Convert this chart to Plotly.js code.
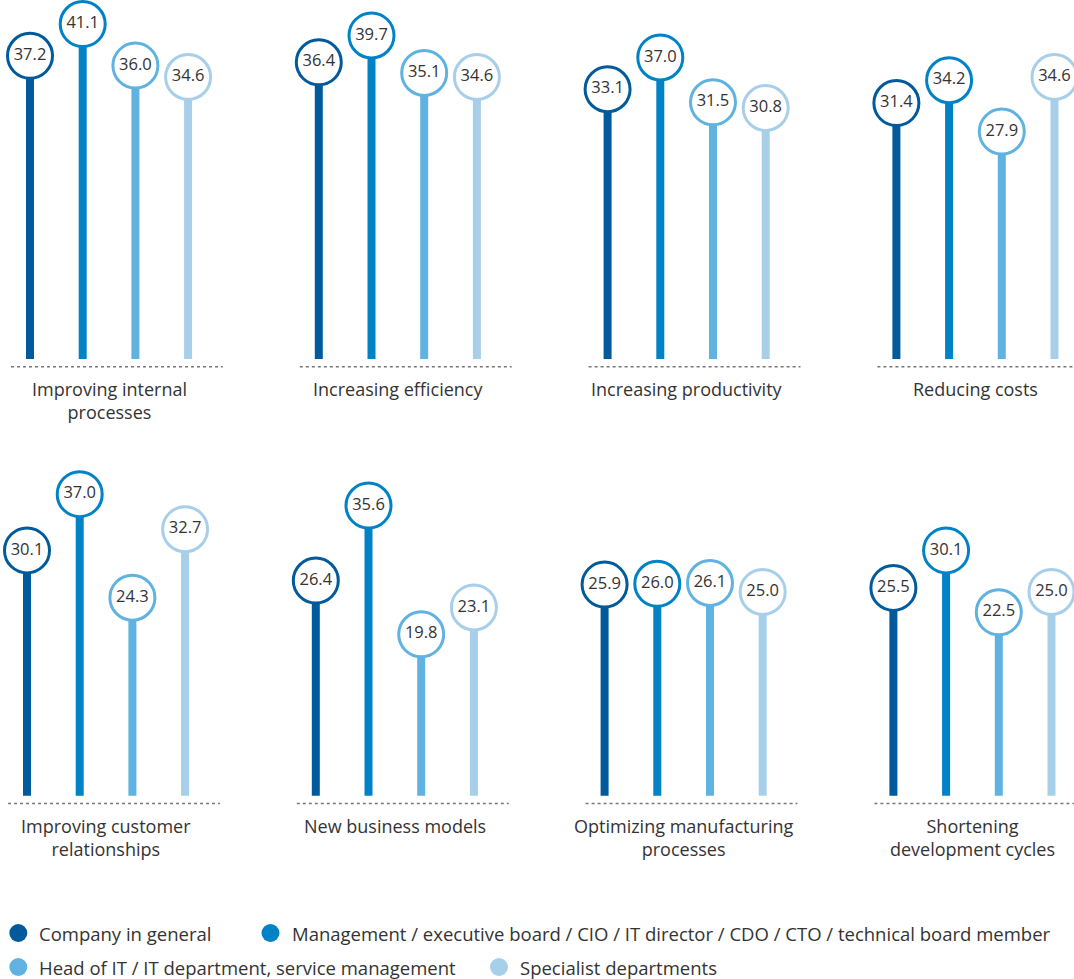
<!DOCTYPE html>
<html>
<head>
<meta charset="utf-8">
<script src="https://cdn.plot.ly/plotly-3.0.1.min.js"></script>
<style>
  html, body { margin: 0; padding: 0; background: #ffffff; }
  #chart { width: 1074px; height: 979px; }
</style>
</head>
<body>
<div id="chart"></div>
<script>
// Goals of digital transformation, by respondent group (values in %)
const categories = [
  "Improving internal<br>processes",
  "Increasing efficiency",
  "Increasing productivity",
  "Reducing costs",
  "Improving customer<br>relationships",
  "New business models",
  "Optimizing manufacturing<br>processes",
  "Shortening<br>development cycles"
];

const seriesNames = [
  "Company in general",
  "Management / executive board / CIO / IT director / CDO / CTO / technical board member",
  "Head of IT / IT department, service management",
  "Specialist departments"
];

const companyInGeneral = [37.2, 36.4, 33.1, 31.4, 30.1, 26.4, 25.9, 25.5];
const management       = [41.1, 39.7, 37.0, 34.2, 37.0, 35.6, 26.0, 30.1];
const headOfIT         = [36.0, 35.1, 31.5, 27.9, 24.3, 19.8, 26.1, 22.5];
const specialistDepts  = [34.6, 34.6, 30.8, 34.6, 32.7, 23.1, 25.0, 25.0];

const seriesValues = [companyInGeneral, management, headOfIT, specialistDepts];
const seriesColors = ["#005a9b", "#0082c6", "#60b2e0", "#a8cfea"];

// ---- geometry ----
const W = 1074, H = 979;
const FONT = "Open Sans, Noto Sans, sans-serif";
const TEXT_COLOR = "#333333";
const PX_PER_UNIT = 8.15;      // vertical pixels per percentage point
const STEM_STEP_PX = 52.7;     // horizontal distance between stems
const PANEL_STEP = 5.48;       // panel pitch, in stem steps
const Y_MIN = -5, Y_MAX = 44;
const rows = [
  { zeroPx: 359.0, firstStemPx: 30 },
  { zeroPx: 795.7, firstStemPx: 27 }
];
const PANELS_PER_ROW = 4;

const layout = {
  width: W, height: H,
  margin: { l: 0, r: 0, t: 0, b: 0, pad: 0 },
  paper_bgcolor: "#ffffff",
  plot_bgcolor: "rgba(0,0,0,0)",
  showlegend: false,
  barmode: "overlay",
  hovermode: false,
  font: { family: FONT, color: TEXT_COLOR, size: 17 },
  shapes: [],
  annotations: []
};

const hiddenAxis = {
  showgrid: false, zeroline: false, showline: false,
  showticklabels: false, ticks: "", fixedrange: true
};

rows.forEach((row, r) => {
  const suffix = r === 0 ? "" : String(r + 1);
  const bottomPx = row.zeroPx - Y_MIN * PX_PER_UNIT;
  const topPx = row.zeroPx - Y_MAX * PX_PER_UNIT;
  layout["xaxis" + suffix] = Object.assign({}, hiddenAxis, {
    domain: [0, 1],
    range: [-row.firstStemPx / STEM_STEP_PX, (W - row.firstStemPx) / STEM_STEP_PX],
    anchor: "y" + suffix
  });
  layout["yaxis" + suffix] = Object.assign({}, hiddenAxis, {
    domain: [1 - bottomPx / H, 1 - topPx / H],
    range: [Y_MIN, Y_MAX],
    anchor: "x" + suffix
  });
});

const traces = [];

rows.forEach((row, r) => {
  const xa = r === 0 ? "x" : "x2";
  const ya = r === 0 ? "y" : "y2";
  const panelIdx = [];
  for (let p = 0; p < PANELS_PER_ROW; p++) panelIdx.push(r * PANELS_PER_ROW + p);

  seriesValues.forEach((vals, s) => {
    const xs = panelIdx.map((c, p) => p * PANEL_STEP + s);
    const ys = panelIdx.map(c => vals[c]);

    // stem
    traces.push({
      type: "bar", x: xs, y: ys, base: 0,
      width: 8 / STEM_STEP_PX,
      marker: { color: seriesColors[s], line: { width: 0 } },
      xaxis: xa, yaxis: ya, hoverinfo: "skip", name: seriesNames[s]
    });

    // value bubble
    traces.push({
      type: "scatter", mode: "markers+text", x: xs, y: ys,
      text: ys.map(v => v.toFixed(1)),
      textposition: "middle center",
      textfont: { family: FONT, size: 16.5, color: TEXT_COLOR },
      marker: { size: 45, color: "#ffffff", line: { color: seriesColors[s], width: 3 } },
      cliponaxis: false,
      xaxis: xa, yaxis: ya, hoverinfo: "skip", name: seriesNames[s]
    });
  });

  // dotted baselines and category labels
  const baseY = -7.7 / PX_PER_UNIT;
  for (let p = 0; p < PANELS_PER_ROW; p++) {
    const x0 = p * PANEL_STEP;
    layout.shapes.push({
      type: "line", xref: xa, yref: ya,
      x0: x0 - 0.36, x1: x0 + 3.66, y0: baseY, y1: baseY,
      line: { color: "#777777", width: 1.5, dash: "dot" }
    });
    layout.annotations.push({
      xref: xa, yref: ya, x: x0 + 1.5, y: 0,
      xanchor: "center", yanchor: "top", yshift: -17,
      text: categories[r * PANELS_PER_ROW + p],
      showarrow: false, align: "center", borderpad: 0,
      font: { family: FONT, size: 18, color: TEXT_COLOR }
    });
  }
});

// legend drawn as dots and labels along the bottom
const legendItems = [
  { dotX: 18.3, textX: 38, y: 933 },
  { dotX: 270.5, textX: 290.5, y: 933 },
  { dotX: 18.3, textX: 38, y: 967 },
  { dotX: 499, textX: 519, y: 967 }
];
legendItems.forEach((it, s) => {
  layout.shapes.push({
    type: "circle", xref: "paper", yref: "paper",
    xsizemode: "pixel", ysizemode: "pixel",
    xanchor: it.dotX / W, yanchor: 1 - it.y / H,
    x0: -9, x1: 9, y0: -9, y1: 9,
    fillcolor: seriesColors[s], line: { width: 0 }
  });
  layout.annotations.push({
    xref: "paper", yref: "paper", x: it.textX / W, y: 1 - it.y / H,
    xanchor: "left", yanchor: "middle", borderpad: 0,
    text: seriesNames[s], showarrow: false,
    font: { family: FONT, size: 18.5, color: TEXT_COLOR }
  });
});

Plotly.newPlot("chart", traces, layout, { displayModeBar: false, staticPlot: true });
</script>
</body>
</html>
